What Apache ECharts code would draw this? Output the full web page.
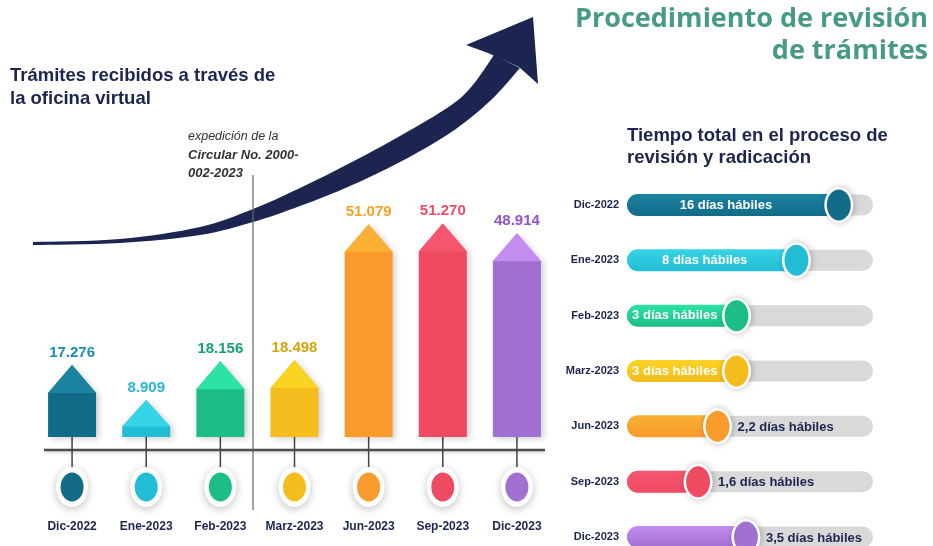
<!DOCTYPE html>
<html>
<head>
<meta charset="utf-8">
<script src="https://cdn.jsdelivr.net/npm/echarts/dist/echarts.min.js"></script>
<style>
html, body { margin: 0; padding: 0; background: #fff; }
#chart { width: 933px; height: 546px; }
</style>
</head>
<body>
<div id="chart"></div>
<script>
const meses = ['Dic-2022', 'Ene-2023', 'Feb-2023', 'Marz-2023', 'Jun-2023', 'Sep-2023', 'Dic-2023'];
const tramites = [17276, 8909, 18156, 18498, 51079, 51270, 48914];
const diasHabiles = [16, 8, 3, 3, 2.2, 1.6, 3.5];
// label inside the bar (white) or after the knob (navy)
const etiquetaDentro = [true, true, true, true, false, false, false];

const navy = '#1b2550';
const color = ['#126c88', '#22bdd4', '#1cbd86', '#f4bc1c', '#f89b2c', '#ee4a62', '#a171d1'];
const colorClaro = ['#1b83a1', '#36d4e6', '#2de3a4', '#fbd322', '#f9b034', '#f5566e', '#c38cf0'];
const colorTexto = ['#1e8bb3', '#2ab5d5', '#17a078', '#d6a30b', '#f5a325', '#ee4c66', '#9450d2'];

const fuente = '"Liberation Sans", Arial, sans-serif';

const fmtMiles = v => String(v).replace(/\B(?=(\d{3})+(?!\d))/g, '.');
const fmtDias = v => String(v).replace('.', ',') + ' días hábiles';

const grad = (i) => new echarts.graphic.LinearGradient(0, 0, 0, 1, [
  { offset: 0, color: colorClaro[i] },
  { offset: 1, color: color[i] }
]);

// catmull-rom through the outline points of the big arrow
function spline(pts, n) {
  const out = [];
  for (let i = 0; i < pts.length - 1; i++) {
    const p0 = pts[Math.max(i - 1, 0)], p1 = pts[i], p2 = pts[i + 1], p3 = pts[Math.min(i + 2, pts.length - 1)];
    for (let k = 0; k < n; k++) {
      const t = k / n, t2 = t * t, t3 = t2 * t;
      out.push([0, 1].map(d => 0.5 * ((2 * p1[d]) + (-p0[d] + p2[d]) * t +
        (2 * p0[d] - 5 * p1[d] + 4 * p2[d] - p3[d]) * t2 +
        (-p0[d] + 3 * p1[d] - 3 * p2[d] + p3[d]) * t3)));
    }
  }
  out.push(pts[pts.length - 1]);
  return out;
}

const bordeSup = spline([[33, 242], [120, 239], [200, 227], [253, 209], [300, 188], [350, 163], [400, 136], [450, 106], [472, 86], [494, 55]], 8);
const bordeInf = spline([[33, 245], [120, 243], [200, 235], [253, 222], [300, 206], [350, 186], [400, 162], [450, 133], [490, 101], [520, 68]], 8).reverse();

function renderTramite(params, api) {
  const i = params.dataIndex;
  const top = api.coord([api.value(0), api.value(1)]);
  const base = api.coord([api.value(0), 0]);
  const cx = top[0], half = 24;
  const h = base[1] - top[1];
  const tipH = Math.min(28, h * 0.72);
  const sh = top[1] + tipH;
  return {
    type: 'group',
    children: [
      { type: 'line', shape: { x1: cx, y1: base[1], x2: cx, y2: base[1] + 34 }, style: { stroke: '#444', lineWidth: 1.5 } },
      {
        type: 'polygon',
        shape: { points: [[cx - half, base[1]], [cx - half, sh], [cx, top[1]], [cx + half, sh], [cx + half, base[1]]] },
        style: { fill: color[i], shadowBlur: 6, shadowOffsetX: 3, shadowOffsetY: 2, shadowColor: 'rgba(0,0,0,0.18)' }
      },
      {
        type: 'polygon',
        shape: { points: [[cx - half, sh], [cx, top[1]], [cx + half, sh]] },
        style: { fill: colorClaro[i] }
      },
      {
        type: 'text',
        style: { x: cx, y: top[1] - 5, text: fmtMiles(api.value(1)), fill: colorTexto[i], font: 'bold 15px ' + fuente, align: 'center', verticalAlign: 'bottom' }
      },
      { type: 'ellipse', shape: { cx: cx, cy: base[1] + 50, rx: 16, ry: 20 }, style: { fill: '#fff', shadowBlur: 8, shadowOffsetY: 2, shadowColor: 'rgba(0,0,0,0.25)' } },
      { type: 'ellipse', shape: { cx: cx, cy: base[1] + 50, rx: 11.5, ry: 14.5 }, style: { fill: color[i] } }
    ]
  };
}

function renderDias(params, api) {
  const i = params.dataIndex;
  const p = api.coord([api.value(0), api.value(1)]);
  const cs = params.coordSys;
  const x0 = cs.x, x1 = cs.x + cs.width, cy = p[1], kx = p[0];
  const texto = fmtDias(api.value(0));
  const children = [
    { type: 'rect', shape: { x: x0, y: cy - 10.5, width: x1 - x0, height: 21, r: 10.5 }, style: { fill: '#d9d9d9' } },
    { type: 'rect', shape: { x: x0, y: cy - 11, width: kx - x0, height: 22, r: [11, 0, 0, 11] }, style: { fill: grad(i) } },
    { type: 'ellipse', shape: { cx: kx, cy: cy, rx: 14.5, ry: 18 }, style: { fill: '#fff', shadowBlur: 6, shadowOffsetX: 1, shadowColor: 'rgba(0,0,0,0.25)' } },
    { type: 'ellipse', shape: { cx: kx, cy: cy, rx: 12, ry: 15.5 }, style: { fill: color[i] } }
  ];
  if (etiquetaDentro[i]) {
    children.push({ type: 'text', style: { x: (x0 + kx - 14) / 2, y: cy, text: texto, fill: '#fff', font: 'bold 13px ' + fuente, align: 'center', verticalAlign: 'middle' } });
  } else {
    children.push({ type: 'text', style: { x: kx + 20, y: cy + 1, text: texto, fill: navy, font: 'bold 13px ' + fuente, align: 'left', verticalAlign: 'middle' } });
  }
  return { type: 'group', children: children };
}

const option = {
  backgroundColor: '#fff',
  animation: false,
  grid: [
    { left: 35, width: 519, top: 187, height: 250 },
    { left: 627, width: 246, top: 205, height: 332 }
  ],
  xAxis: [
    {
      type: 'category',
      gridIndex: 0,
      data: meses,
      axisLine: { show: false },
      axisTick: { show: false },
      axisLabel: { margin: 84, color: navy, fontWeight: 'bold', fontSize: 12, fontFamily: fuente, interval: 0 }
    },
    {
      type: 'log',
      gridIndex: 1,
      logBase: 10,
      min: 0.5,
      max: 28,
      show: false
    }
  ],
  yAxis: [
    { type: 'value', gridIndex: 0, min: 0, max: 60000, show: false },
    {
      type: 'category',
      gridIndex: 1,
      inverse: true,
      boundaryGap: false,
      data: meses,
      axisLine: { show: false },
      axisTick: { show: false },
      axisLabel: { margin: 8, color: navy, fontWeight: 'bold', fontSize: 11, fontFamily: fuente }
    }
  ],
  graphic: [
    { type: 'polygon', shape: { points: bordeSup.concat(bordeInf) }, style: { fill: navy } },
    { type: 'polygon', shape: { points: [[488, 53], [466, 45], [533, 17], [538, 84], [519, 67]] }, style: { fill: navy } },
    { type: 'line', shape: { x1: 44, y1: 450, x2: 545, y2: 450 }, style: { stroke: '#4d4d4d', lineWidth: 2.5, shadowBlur: 3, shadowOffsetY: 2, shadowColor: 'rgba(0,0,0,0.15)' } },
    { type: 'line', shape: { x1: 253, y1: 175, x2: 253, y2: 510 }, style: { stroke: '#666', lineWidth: 1.2 } },
    {
      type: 'text', left: 10, top: 64,
      style: { text: 'Trámites recibidos a través de\nla oficina virtual', fill: navy, font: 'bold 18.5px ' + fuente, lineHeight: 23 }
    },
    {
      type: 'text', right: 5, top: 6,
      style: { text: 'Procedimiento de revisión', fill: '#479a86', font: 'bold 27px "Open Sans", sans-serif' }
    },
    {
      type: 'text', right: 5, top: 38,
      style: { text: 'de trámites', fill: '#479a86', font: 'bold 27px "Open Sans", sans-serif' }
    },
    {
      type: 'text', left: 627, top: 125,
      style: { text: 'Tiempo total en el proceso de\nrevisión y radicación', fill: navy, font: 'bold 18.5px ' + fuente, lineHeight: 22 }
    },
    {
      type: 'text', left: 188, top: 130,
      style: { text: 'expedición de la', fill: '#333', font: 'italic 12.5px ' + fuente }
    },
    {
      type: 'text', left: 188, top: 146,
      style: { text: 'Circular No. 2000-\n002-2023', fill: '#333', font: 'italic bold 13px ' + fuente, lineHeight: 18 }
    }
  ],
  series: [
    {
      type: 'custom',
      xAxisIndex: 0,
      yAxisIndex: 0,
      renderItem: renderTramite,
      encode: { x: 0, y: 1 },
      clip: false,
      data: tramites.map((v, i) => [i, v])
    },
    {
      type: 'custom',
      xAxisIndex: 1,
      yAxisIndex: 1,
      renderItem: renderDias,
      encode: { x: 0, y: 1 },
      clip: false,
      data: diasHabiles.map((v, i) => [v, i])
    }
  ]
};

const chart = echarts.init(document.getElementById('chart'));
chart.setOption(option);
</script>
</body>
</html>
